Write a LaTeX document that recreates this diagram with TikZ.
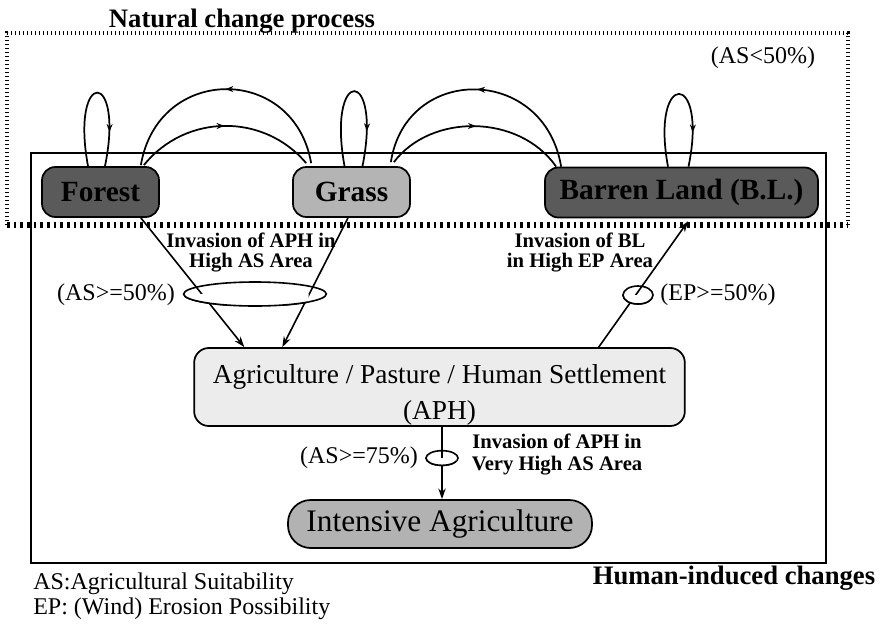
\documentclass[tikz,border=0pt]{standalone}
\usepackage{fontspec}
\setmainfont{Liberation Serif}
\usetikzlibrary{arrows.meta,positioning,calc,shapes.geometric,decorations.markings}
\definecolor{darkland}{HTML}{5A5A5A}
\definecolor{grassfill}{HTML}{B4B4B4}
\definecolor{aphfill}{HTML}{ECECEC}
\definecolor{intfill}{HTML}{B2B2B2}

\begin{document}
\begin{tikzpicture}[
  x=0.75pt,y=-0.75pt,
  landbox/.style={draw,line width=1.3pt,rounded corners=10pt,inner sep=0pt,
    font=\fontsize{22}{26}\selectfont\bfseries,minimum height=37.5pt},
  usebox/.style={draw,line width=1.3pt,rounded corners=11pt,inner sep=0pt,align=center},
  lbl/.style={inner sep=0pt,font=\fontsize{18}{19}\selectfont},
  boldlbl/.style={inner sep=0pt,align=center,font=\fontsize{15.5}{15}\selectfont\bfseries},
  gate/.style={draw,ellipse,line width=1.2pt,inner sep=0pt},
  natline/.style={line width=1.3pt},
  flow/.style={-{Stealth[length=8pt,width=5.5pt]},line width=1.2pt},
  midarr/.style={postaction={decorate},decoration={markings,
    mark=at position #1 with {\arrow{Stealth[length=6pt,width=4.5pt]}}}},
  dotbox/.style={line width=3pt,dash pattern=on 1pt off 2pt},
  dotbold/.style={line width=3.8pt,dash pattern=on 2pt off 3pt}
]
\useasboundingbox (0,0) rectangle (886,629);

% frames
\coordinate (natNW) at (7,33);
\coordinate (natSE) at (848,225);
\coordinate (humNW) at (31,153);
\coordinate (humSE) at (826,563);
\draw[line width=1pt] (humNW) rectangle (humSE);
\draw[dotbox] (natNW |- natSE) -- (natNW) -- (natNW -| natSE) -- (natSE);
\draw[dotbold] (natNW |- natSE) -- (natSE);

% land cover classes
\node[landbox,fill=darkland,minimum width=87.75pt] (forest) at (100.5,192) {Forest};
\node[landbox,fill=grassfill,minimum width=87.75pt] (grass) at (351.5,192) {Grass};
\node[landbox,fill=darkland,minimum width=204.75pt] (barren) at (681.5,192.5) {Barren Land (B.L.)};
\node[usebox,fill=aphfill,minimum width=368pt,minimum height=58.5pt,
  label={[yshift=-6pt,align=center,font=\fontsize{20.5}{27}\selectfont]center:Agriculture / Pasture / Human Settlement\\(APH)}]
  (aph) at (439.5,387) {};
\node[usebox,fill=intfill,rounded corners=17pt,minimum width=228pt,minimum height=36pt,
  font=\fontsize{23.5}{26}\selectfont] (intensive) at (440,524) {Intensive Agriculture};

% titles and notes
\node[inner sep=0pt,font=\fontsize{20}{22}\selectfont\bfseries] (natural) at (242,21) {Natural change process};
\node[inner sep=0pt,font=\fontsize{20}{22}\selectfont\bfseries] (human) at (734,578) {Human-induced changes};
\node[lbl] (aslow) at (763,58) {(AS<50\%)};
\node[lbl,anchor=west,align=left] (legend) at (33,596) {AS:Agricultural Suitability\\EP: (Wind) Erosion Possibility};
\node[lbl] (asmid) at (116,295) {(AS>=50\%)};
\node[lbl] (epmid) at (718,295) {(EP>=50\%)};
\node[lbl] (ashigh) at (359,458) {(AS>=75\%)};
\node[boldlbl] (invA) at (251,252) {Invasion of APH in\\High AS Area};
\node[boldlbl] (invB) at (580,252) {Invasion of BL\\in High EP Area};
\node[boldlbl,font=\fontsize{15.5}{16.5}\selectfont\bfseries] (invC) at (557,454) {Invasion of APH in\\Very High AS Area};

% condition gates
\foreach \g/\w/\h/\px/\py in {asHi/107/18/255/294,epHi/22.5/13.5/638/295,asVh/24/11/442/458}
  \node[gate,minimum width=\w pt,minimum height=\h pt] (\g) at (\px,\py) {};

% natural transitions
\draw[natline,midarr=0.78] ($(forest.north)+(-12.5,0)$) .. controls +(-18,-98) and +(20,-98) .. ($(forest.north)+(4.5,0)$);
\draw[natline,midarr=0.78] ($(grass.north)+(-7,0)$) .. controls +(-18,-100) and +(20,-100) .. ($(grass.north)+(11,0)$);
\draw[natline,midarr=0.78] ($(barren.north)+(-13.5,0)$) .. controls +(-18,-97) and +(20,-97) .. ($(barren.north)+(7,0)$);
\draw[natline,midarr=0.5] ($(grass.north west)+(19,-3)$) .. controls +(-17,-99) and +(17,-101) .. ($(forest.north east)+(-19,-1)$);
\draw[natline,midarr=0.5] ($(forest.north east)+(-16,-1)$) .. controls +(42,-52) and +(-42,-50) .. ($(grass.north west)+(14,-3)$);
\draw[natline,midarr=0.5] ($(barren.north west)+(17,0)$) .. controls +(-17,-102) and +(15,-98) .. ($(grass.north east)+(-20,-4)$);
\draw[natline,midarr=0.5] ($(grass.north east)+(-17,-4)$) .. controls +(37,-49) and +(-37,-53) .. ($(barren.north west)+(12,0)$);

% human-induced transitions
\draw[flow] ($(forest.south east)+(-19,0)$) -- ($(aph.north west)+(51,0)$);
\draw[flow] ($(grass.south)+(-3.5,0)$) -- ($(aph.north west)+(89,0)$);
\draw[flow] ($(aph.north east)+(-87,0)$) -- ($(barren.south)+(6.5,3)$);
\draw[flow] ($(aph.south)+(2.5,0)$) -- ($(intensive.north)+(2,0)$);

% lower halves of the gates hide the lines
\foreach \g/\w/\h in {asHi/107/18,epHi/22.5/13.5,asVh/24/11}{
  \begin{scope}
    \clip ([xshift=-2pt]\g.west) rectangle ([shift={(2pt,-2pt)}]\g.south east);
    \node[gate,fill=white,minimum width=\w pt,minimum height=\h pt] at (\g.center) {};
  \end{scope}
}
\end{tikzpicture}
\end{document}
